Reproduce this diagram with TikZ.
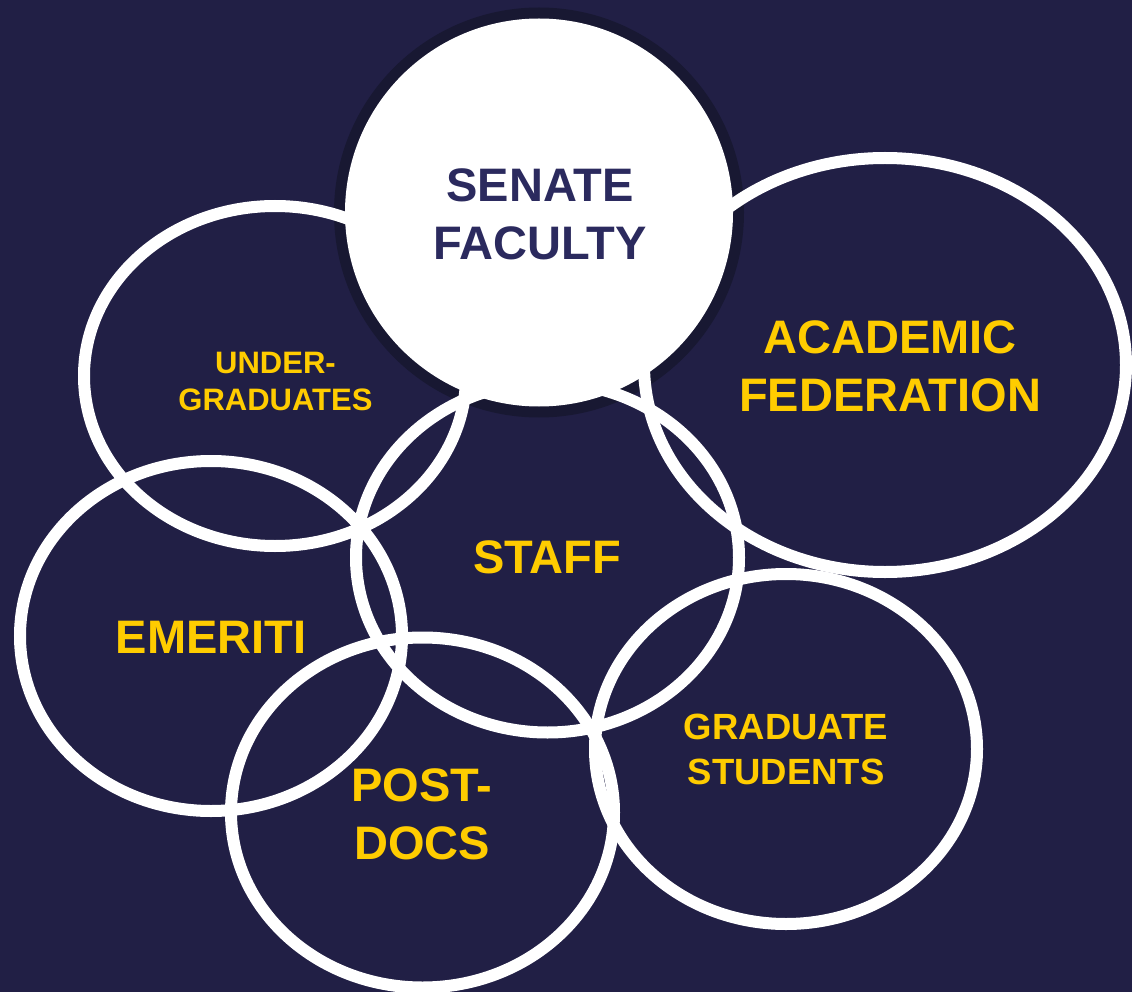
\documentclass[tikz,border=0pt]{standalone}
\usepackage{fontspec}
\setmainfont{Liberation Sans}
\usetikzlibrary{shapes.geometric}
\definecolor{bg}{RGB}{33,31,69}
\definecolor{ring}{RGB}{24,24,50}
\definecolor{gold}{RGB}{255,204,0}
\definecolor{navytext}{RGB}{43,42,94}
\begin{document}
\begin{tikzpicture}[x=1pt,y=-1pt,
  oval/.style={ellipse, draw=white, line width=12pt, inner sep=0pt, outer sep=0pt},
  lbl/.style={text=gold, align=center, inner sep=0pt},
  big/.style={font=\bfseries\fontsize{47}{58.3}\selectfont},
  mid/.style={font=\bfseries\fontsize{36.5}{45}\selectfont},
  small/.style={font=\bfseries\fontsize{31}{37.4}\selectfont},
]
\useasboundingbox (0,0) rectangle (1132,992);
\fill[bg] (0,0) rectangle (1132,992);
% shadow ring of the senate circle
\node[circle, fill=ring, minimum size=410pt, inner sep=0pt] (senring) at (539,212.5) {};
% member ellipses
\node[oval, minimum width=382pt, minimum height=340pt] (ug) at (275,376) {};
\node[oval, minimum width=482pt, minimum height=414pt] (af) at (885,365) {};
\node[oval, minimum width=383pt, minimum height=350pt] (st) at (547.5,557.5) {};
\node[oval, minimum width=382pt, minimum height=350pt] (em) at (211,636) {};
\node[oval, minimum width=383pt, minimum height=350pt] (pd) at (422.5,812.5) {};
\node[oval, minimum width=382pt, minimum height=350pt] (gs) at (786,749) {};
% senate disk
\node[circle, fill=white, minimum size=388pt, inner sep=0pt] (senate) at (539,212.5) {};
% labels
\node[lbl, big, text=navytext] (sf) at (540,214) {SENATE\\FACULTY};
\node[lbl, big] (aft) at (890,366) {ACADEMIC\\FEDERATION};
\node[lbl, big] (stt) at (547,557.5) {STAFF};
\node[lbl, big] (emt) at (211,637.5) {EMERITI};
\node[lbl, big] (pdt) at (422,814) {POST-\\DOCS};
\node[lbl, small] (ugt) at (275.5,381.7) {UNDER-\\GRADUATES};
\node[lbl, mid] (gst) at (786,749) {GRADUATE\\STUDENTS};
\end{tikzpicture}
\end{document}
